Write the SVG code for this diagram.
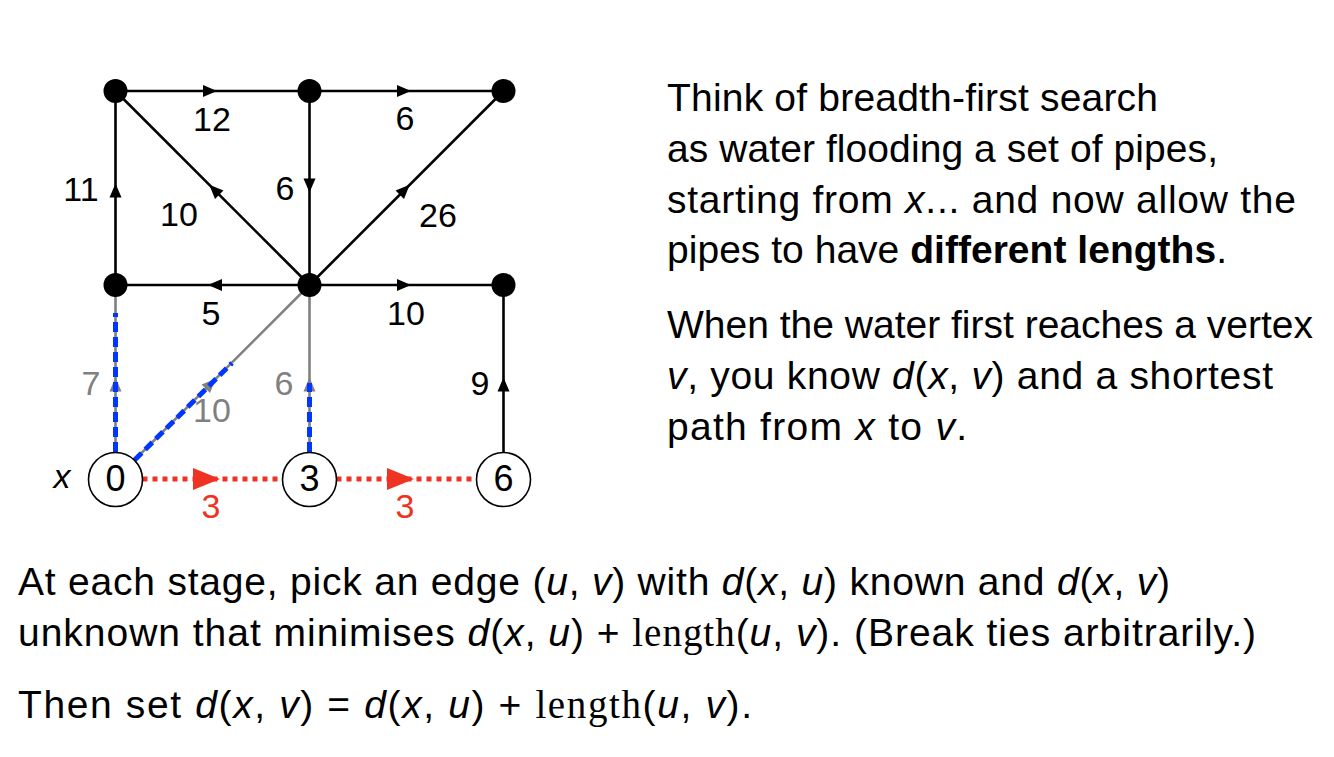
<svg xmlns="http://www.w3.org/2000/svg" width="1334" height="757" viewBox="0 0 1334 757">
<style>
.edge{stroke:#000;stroke-width:2.6;fill:none}
.gedge{stroke:#808080;stroke-width:2.6;fill:none}
.blue{stroke:#0036ff;stroke-width:5;stroke-dasharray:10 5;fill:none}
.red{stroke:#ee3322;stroke-width:5;stroke-dasharray:5 5;fill:none}
.lbl{font-family:"Liberation Sans",Arial,sans-serif;font-size:34px;text-anchor:middle;fill:#000}
.glbl{fill:#808080}
.rlbl{fill:#ee3322}
.num{font-family:"Liberation Sans",Arial,sans-serif;font-size:36px;text-anchor:middle}
.body{font-family:"Liberation Sans",Arial,sans-serif;font-size:39px;fill:#000}
.m{font-style:italic}
.r{font-family:"Liberation Serif","Times New Roman",serif}
.dot{fill:#000}
.circ{fill:#fff;stroke:#000;stroke-width:1.6}
</style>
<defs>
<path id="ah" d="M4.5,0 L-9.5,-6 L-9.5,6 Z"/>
<path id="rah" d="M7.5,0 L-19.5,-11 L-19.5,11 Z"/>
</defs>
<rect width="1334" height="757" fill="#fff"/>

<g id="connectors">
  <g id="black-edges">
    <path class="edge" d="M115.5,91 H309.5"/>
    <path class="edge" d="M309.5,91 H503.5"/>
    <path class="edge" d="M309.5,91 V285"/>
    <path class="edge" d="M115.5,285 V91"/>
    <path class="edge" d="M309.5,285 L115.5,91"/>
    <path class="edge" d="M309.5,285 L503.5,91"/>
    <path class="edge" d="M309.5,285 H115.5"/>
    <path class="edge" d="M309.5,285 H503.5"/>
    <path class="edge" d="M503.5,479 V285"/>
    <use href="#ah" transform="translate(212.5,91)"/>
    <use href="#ah" transform="translate(406.5,91)"/>
    <use href="#ah" transform="translate(309.5,188) rotate(90)"/>
    <use href="#ah" transform="translate(115.5,188) rotate(-90)"/>
    <use href="#ah" transform="translate(212.5,188) rotate(-135)"/>
    <use href="#ah" transform="translate(406.5,188) rotate(-45)"/>
    <use href="#ah" transform="translate(212.5,285) rotate(180)"/>
    <use href="#ah" transform="translate(406.5,285)"/>
    <use href="#ah" transform="translate(503.5,382) rotate(-90)"/>
  </g>
  <g id="gray-edges" fill="#808080">
    <path class="gedge" d="M115.5,479 V285"/>
    <path class="gedge" d="M115.5,479 L309.5,285"/>
    <path class="gedge" d="M309.5,479 V285"/>
    <use href="#ah" transform="translate(115.5,382) rotate(-90)"/>
    <use href="#ah" transform="translate(212.5,382) rotate(-45)"/>
    <use href="#ah" transform="translate(309.5,382) rotate(-90)"/>
  </g>
  <g id="water">
    <path class="blue" d="M115.5,452 V313"/>
    <path class="blue" d="M134.6,460 L232,363"/>
    <path class="blue" d="M309.5,452 V383"/>
  </g>
  <g id="red-edges" fill="#ee3322">
    <path class="red" d="M142.5,479 H282.5"/>
    <path class="red" d="M336.5,479 H476.5"/>
    <use href="#rah" transform="translate(212.5,479)"/>
    <use href="#rah" transform="translate(406.5,479)"/>
  </g>
  <g id="edge-labels">
    <text class="lbl" x="212" y="131">12</text>
    <text class="lbl" x="405" y="130">6</text>
    <text class="lbl" x="285" y="200">6</text>
    <text class="lbl" x="81" y="201">11</text>
    <text class="lbl" x="179" y="226">10</text>
    <text class="lbl" x="438" y="227">26</text>
    <text class="lbl" x="211" y="325">5</text>
    <text class="lbl" x="406" y="325">10</text>
    <text class="lbl" x="480" y="395">9</text>
    <text class="lbl glbl" x="91" y="395">7</text>
    <text class="lbl glbl" x="212" y="422">10</text>
    <text class="lbl glbl" x="284" y="395">6</text>
    <text class="lbl rlbl" x="211" y="518">3</text>
    <text class="lbl rlbl" x="405" y="518">3</text>
  </g>
</g>

<g id="n-tl"><circle class="dot" cx="115.5" cy="91" r="12"/></g>
<g id="n-tm"><circle class="dot" cx="309.5" cy="91" r="12"/></g>
<g id="n-tr"><circle class="dot" cx="503.5" cy="91" r="12"/></g>
<g id="n-ml"><circle class="dot" cx="115.5" cy="285" r="12"/></g>
<g id="n-mm"><circle class="dot" cx="309.5" cy="285" r="12"/></g>
<g id="n-mr"><circle class="dot" cx="503.5" cy="285" r="12"/></g>
<g id="n-x">
  <circle class="circ" cx="115.5" cy="479.5" r="27"/>
  <text class="num" x="115.5" y="491">0</text>
  <text class="lbl m" x="62" y="488">x</text>
</g>
<g id="n-3">
  <circle class="circ" cx="309.5" cy="479.5" r="27"/>
  <text class="num" x="309.5" y="491">3</text>
</g>
<g id="n-6">
  <circle class="circ" cx="503.5" cy="479.5" r="27"/>
  <text class="num" x="503.5" y="491">6</text>
</g>

<g id="text-right">
  <text class="body" x="667" y="111" textLength="491">Think of breadth-first search</text>
  <text class="body" x="667" y="162" textLength="551">as water flooding a set of pipes,</text>
  <text class="body" x="667" y="213" textLength="629">starting from <tspan class="m">x</tspan>... and now allow the</text>
  <text class="body" x="667" y="263" textLength="560">pipes to have <tspan font-weight="bold">different lengths</tspan>.</text>
  <text class="body" x="667" y="338" textLength="646">When the water first reaches a vertex</text>
  <text class="body" x="667" y="389" textLength="606"><tspan class="m">v</tspan>, you know <tspan class="m">d</tspan>(<tspan class="m">x</tspan>, <tspan class="m">v</tspan>) and a shortest</text>
  <text class="body" x="667" y="440" textLength="300">path from <tspan class="m">x</tspan> to <tspan class="m">v</tspan>.</text>
</g>
<g id="text-bottom">
  <text class="body" x="18" y="595" textLength="1152">At each stage, pick an edge (<tspan class="m">u</tspan>, <tspan class="m">v</tspan>) with <tspan class="m">d</tspan>(<tspan class="m">x</tspan>, <tspan class="m">u</tspan>) known and <tspan class="m">d</tspan>(<tspan class="m">x</tspan>, <tspan class="m">v</tspan>)</text>
  <text class="body" x="18" y="646" textLength="1238">unknown that minimises <tspan class="m">d</tspan>(<tspan class="m">x</tspan>, <tspan class="m">u</tspan>) + <tspan class="r">length</tspan>(<tspan class="m">u</tspan>, <tspan class="m">v</tspan>). (Break ties arbitrarily.)</text>
  <text class="body" x="18" y="718" textLength="734">Then set <tspan class="m">d</tspan>(<tspan class="m">x</tspan>, <tspan class="m">v</tspan>) = <tspan class="m">d</tspan>(<tspan class="m">x</tspan>, <tspan class="m">u</tspan>) + <tspan class="r">length</tspan>(<tspan class="m">u</tspan>, <tspan class="m">v</tspan>).</text>
</g>
</svg>
